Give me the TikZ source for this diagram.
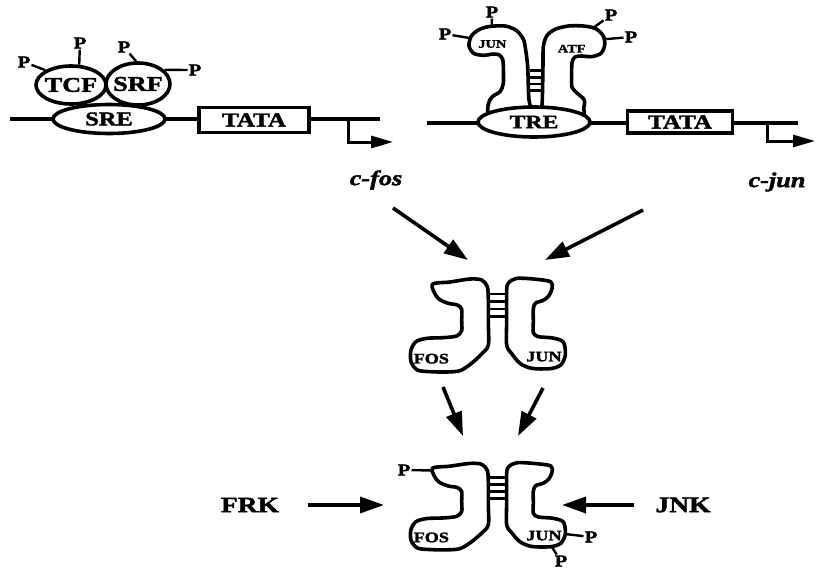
\documentclass[tikz,border=0pt]{standalone}
\usepackage{fontspec}
\setmainfont{Liberation Serif}[FakeStretch=1.25, BoldFeatures={FakeBold=2}, BoldItalicFeatures={FakeBold=2}]
\usetikzlibrary{shapes.geometric,arrows.meta}
\newcommand\fsz[1]{\fontsize{#1}{#1}\selectfont}
\tikzset{
  lbl/.style={font=\bfseries\fsz{#1}, inner sep=0pt},
  gene/.style={font=\bfseries\itshape\fsz{21}, inner sep=0pt},
  blob/.style={ellipse, draw, fill=white, line width=3.6pt, inner sep=0pt},
  boxst/.style={draw, fill=white, line width=3.6pt, inner sep=0pt},
  prot/.style={draw, fill=white, line width=3.6pt, line join=round},
  dna/.style={line width=3.2pt},
  plink/.style={line width=2.4pt},
  plbl/.style={font=\bfseries\fsz{16.5}, inner sep=1pt},
  rung/.style={line width=2.8pt},
  bigarrow/.style={line width=3.6pt, -{Triangle[length=24pt,width=16pt]}},
  tssarrow/.style={line width=3pt, -{Triangle[length=22pt,width=12pt]}},
  % FOS/JUN heterodimer, drawn in its own 1/3-scale frame
  fosjun/.pic={
    \draw[prot] plot[smooth cycle, tension=0.5] coordinates {(98,42) (150,36) (210,27) (245,30) (262,50) (265,90) (265,160) (265,225) (245,252) (212,282) (180,302) (140,306) (90,305) (52,300) (33,275) (33,240) (48,215) (80,205) (130,203) (170,198) (185,182) (185,150) (185,118) (172,105) (145,100) (118,88) (104,70)};
    \draw[prot] plot[smooth cycle, tension=0.5] coordinates {(320,60) (326,38) (350,25) (400,27) (452,35) (456,55) (446,78) (428,92) (408,98) (400,115) (400,155) (400,188) (415,200) (458,204) (490,216) (496,255) (482,285) (450,296) (395,295) (360,280) (336,252) (320,225) (320,150)};
    \foreach \ry in {72,95,117,140} {\draw[rung] (268,\ry) -- (317,\ry);}
    \node[lbl=14.5] (-fos) at (94,266) {FOS};
    \node[lbl=14.5] (-jun) at (432,260) {JUN};
    \coordinate (-hl) at (100,50);
    \coordinate (-fr) at (496,255);
    \coordinate (-fb) at (455,296);
  }
}
\begin{document}
\begin{tikzpicture}[x=1pt,y=-1pt]
\useasboundingbox (0,0) rectangle (816,570);

% ---------- c-fos promoter ----------
\coordinate (fosA) at (10,119);
\coordinate (fosB) at (380,119);
\draw[dna] (fosA) -- (fosB);
\node[blob, minimum width=70, minimum height=38] (tcf) at (71,85) {};
\node[blob, minimum width=64, minimum height=42] (srf) at (138,84) {};
\node[blob, minimum width=112, minimum height=29] (sre) at (109,119) {};
\node[lbl=21] (tcft) at (tcf) {TCF};
\node[lbl=21] (srft) at (srf) {SRF};
\node[lbl=19.5] (sret) at (sre) {SRE};
\node[boxst, lbl=20, minimum width=110, minimum height=25] (tata1) at (254,120) {TATA};
\coordinate (tss1) at (348,119);
\coordinate (tss1e) at (393,142);
\draw[tssarrow] (tss1) |- (tss1e);
\node[plbl] (p1) at (24,62) {P};
\node[plbl] (p2) at (80,43) {P};
\node[plbl] (p3) at (124,47) {P};
\node[plbl] (p4) at (195,70) {P};
\draw[plink] (p1) -- (tcf.150);
\draw[plink] (p2) -- (tcf.68);
\draw[plink] (p3) -- (srf.95);
\draw[plink] (p4) -- (srf.28);
\node[gene] (cfos) at (376,180) {c-fos};

% ---------- c-jun promoter ----------
\coordinate (junA) at (427,123);
\coordinate (junB) at (798,123);
\draw[dna] (junA) -- (junB);
\begin{scope}[shift={(455,0)}, scale=1/3]
  \draw[prot] plot[smooth cycle, tension=0.5] coordinates {(185,92) (205,118) (212,150) (218,200) (220,260) (222,300) (228,345) (180,348) (105,345) (100,312) (112,290) (135,275) (145,250) (145,200) (143,178) (133,165) (115,162) (85,166) (56,160) (42,138) (48,110) (68,91) (100,80) (150,78)};
  \draw[prot] plot[smooth cycle, tension=0.5] coordinates {(265,140) (275,108) (300,88) (340,78) (385,78) (422,86) (445,108) (449,135) (438,160) (410,170) (380,168) (360,171) (351,188) (350,230) (351,262) (367,280) (388,300) (386,325) (381,345) (300,348) (262,345) (262,300) (263,250) (264,190)};
  \foreach \ry in {212,232,252,272} {\draw[rung] (224,\ry) -- (260,\ry);}
  \node[lbl=11.5] (junt) at (112,132) {JUN};
  \node[lbl=11.5] (atft) at (350,146) {ATF};
  \coordinate (junTop) at (110,80);
  \coordinate (junLeft) at (50,115);
  \coordinate (atfTop) at (414,84);
  \coordinate (atfRight) at (444,118);
\end{scope}
\node[blob, minimum width=112, minimum height=30] (tre) at (534,122) {};
\node[lbl=19] (tret) at (tre) {TRE};
\node[boxst, lbl=20, minimum width=105, minimum height=22] (tata2) at (680,122) {TATA};
\coordinate (tss2) at (767,123);
\coordinate (tss2e) at (815,141);
\draw[tssarrow] (tss2) |- (tss2e);
\node[plbl] (pj1) at (492,12) {P};
\node[plbl] (pj2) at (445,34) {P};
\node[plbl] (pa1) at (611,15) {P};
\node[plbl] (pa2) at (631,37) {P};
\draw[plink] (pj1) -- (junTop);
\draw[plink] (pj2) -- (junLeft);
\draw[plink] (pa1) -- (atfTop);
\draw[plink] (pa2) -- (atfRight);
\node[gene] (cjun) at (777,182) {c-jun};

% ---------- FOS/JUN dimer ----------
\coordinate (a1s) at (393,208);
\coordinate (a1e) at (468,260);
\coordinate (a2s) at (643,210);
\coordinate (a2e) at (545,260);
\draw[bigarrow] (a1s) -- (a1e);
\draw[bigarrow] (a2s) -- (a2e);
\pic (mid) [shift={(400,270)}, scale=1/3] {fosjun};

% ---------- phosphorylated dimer ----------
\coordinate (a3s) at (443,387);
\coordinate (a3e) at (463,436);
\coordinate (a4s) at (543,388);
\coordinate (a4e) at (518,436);
\draw[bigarrow] (a3s) -- (a3e);
\draw[bigarrow] (a4s) -- (a4e);
\pic (bot) [shift={(400,455)}, xscale=1/3, yscale=0.31] {fosjun};
\node[plbl] (pb1) at (404,470) {P};
\node[plbl] (pb2) at (591,537) {P};
\node[plbl] (pb3) at (561,561) {P};
\draw[plink] (pb1) -- (bot-hl);
\draw[plink] (bot-fr) -- (pb2);
\draw[plink] (bot-fb) -- (pb3);

\node[lbl=22] (frk) at (250,505) {FRK};
\node[lbl=22] (jnk) at (683,505) {JNK};
\coordinate (k1s) at (308,505);
\coordinate (k1e) at (384,505);
\coordinate (k2s) at (634,505);
\coordinate (k2e) at (562,505);
\draw[bigarrow] (k1s) -- (k1e);
\draw[bigarrow] (k2s) -- (k2e);
\end{tikzpicture}
\end{document}
